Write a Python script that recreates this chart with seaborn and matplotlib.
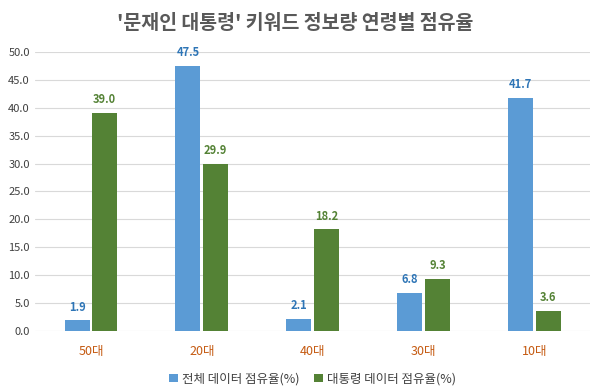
import matplotlib
matplotlib.use("Agg")
import matplotlib.pyplot as plt
import pandas as pd
import seaborn as sns
from matplotlib.ticker import FormatStrFormatter

ages = ["50대", "20대", "40대", "30대", "10대"]
total_share = [1.9, 47.5, 2.1, 6.8, 41.7]
president_share = [39.0, 29.9, 18.2, 9.3, 3.6]
series_names = ["전체 데이터 점유율(%)", "대통령 데이터 점유율(%)"]
y_ticks = [0, 5, 10, 15, 20, 25, 30, 35, 40, 45, 50]

colors = ["#5B9BD5", "#548235"]
label_colors = ["#2E75B6", "#548235"]

df = pd.DataFrame({
    "age": ages * 2,
    "value": total_share + president_share,
    "series": [series_names[0]] * len(ages) + [series_names[1]] * len(ages),
})

sns.set_theme(style="white")
plt.rcParams["font.family"] = ["Noto Sans CJK KR", "DejaVu Sans"]

fig = plt.figure(figsize=(5.91, 3.9), dpi=100)
ax = fig.add_axes([0.06, 0.151, 0.938, 0.716])

sns.barplot(data=df, x="age", y="value", hue="series", hue_order=series_names,
            order=ages, palette=colors, width=0.5, gap=0.1, ax=ax,
            saturation=1, errorbar=None, legend=True, linewidth=0, edgecolor="none")

for cont, c in zip(ax.containers, label_colors):
    ax.bar_label(cont, fmt="%.1f", padding=5, color=c, fontsize=8, fontweight="bold")

ax.set_ylim(0, 50)
ax.set_yticks(y_ticks)
ax.yaxis.set_major_formatter(FormatStrFormatter("%.1f"))
ax.grid(axis="y", color="#D9D9D9", linewidth=0.8)
ax.set_axisbelow(True)
for s in ax.spines.values():
    s.set_visible(False)
ax.tick_params(axis="y", labelsize=8, labelcolor="#404040", length=0, pad=4)
ax.tick_params(axis="x", labelsize=9, labelcolor="#C55A11", length=0, pad=10)
ax.set_xlabel("")
ax.set_ylabel("")
ax.set_xlim(-0.5, len(ages) - 0.5)

handles, labels = ax.get_legend_handles_labels()
ax.legend(handles, labels, loc="lower center", bbox_to_anchor=(0.5, -0.235),
          ncol=2, frameon=False, fontsize=9, handlelength=0.7, handleheight=0.7,
          handletextpad=0.3, columnspacing=1.2, labelcolor="#404040")

fig.suptitle("'문재인 대통령' 키워드 정보량 연령별 점유율", y=0.965,
             fontsize=14, fontweight="bold", color="#595959")

fig.savefig("out.png", dpi=100)
